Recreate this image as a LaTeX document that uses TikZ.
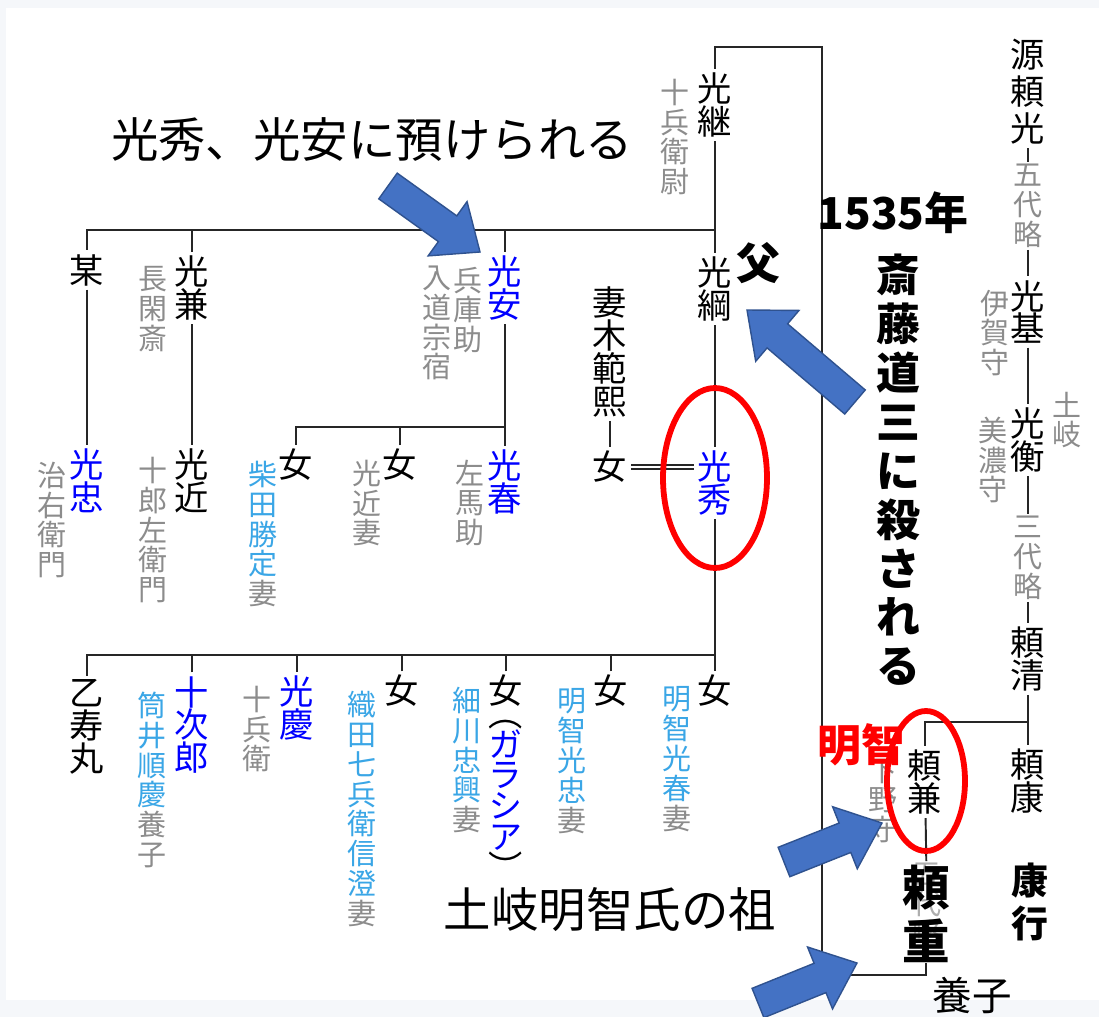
\documentclass[tikz,border=0pt]{standalone}
\usepackage{fontspec}
\setmainfont{Noto Sans CJK JP}
\newfontfamily\tatefont[RawFeature=+vert]{Noto Sans CJK JP}
\usepackage{tikz}
\usetikzlibrary{positioning, calc}

\definecolor{bgpanel}{HTML}{F5F7FA}
\definecolor{notegray}{HTML}{8C8C8C}
\definecolor{nameblue}{HTML}{0000FF}
\definecolor{skyblue}{HTML}{3AA6E6}
\definecolor{arrowblue}{HTML}{4472C4}
\definecolor{arrowedge}{HTML}{2F528F}

% block arrow from tail (#1) to tip (#2), #3 names its neck
\newcommand{\blockarrow}[3]{%
  \coordinate (#3neck) at ($(#2)!22.7pt!(#1)$);
  \filldraw[bluearrow] ($(#1)!9pt!90:(#2)$) -- ($(#3neck)!9pt!90:(#2)$) -- ($(#3neck)!19pt!90:(#2)$) -- (#2)
    -- ($(#3neck)!19pt!-90:(#2)$) -- ($(#3neck)!9pt!-90:(#2)$) -- ($(#1)!9pt!-90:(#2)$) -- cycle;
}

\begin{document}
\begin{tikzpicture}[
    x=0.02cm, y=-0.02cm,
    person/.style={font=\fontsize{19.5}{18.7}\selectfont, align=center, inner sep=2pt},
    tallperson/.style={person, font=\fontsize{19.5}{21}\selectfont},
    bluep/.style={person, text=nameblue},
    note/.style={font=\fontsize{16.5}{17}\selectfont, align=center, inner sep=1pt, text=notegray},
    skynote/.style={note, text=skyblue},
    heavy/.style={font=\bfseries\fontsize{25}{27.8}\selectfont, align=center, inner sep=0pt},
    callout/.style={font=\fontsize{27}{30}\selectfont, inner sep=0pt},
    link/.style={draw=black!85, line width=1.1pt},
    wedding/.style={draw=black!85, double, double distance=1.7pt, line width=1pt},
    ring/.style={draw=red, line width=3.3pt},
    bluearrow/.style={fill=arrowblue, draw=arrowedge, line width=0.8pt}
]

% Backdrop
\useasboundingbox (0,0) rectangle (1099,1017);
\fill[bgpanel] (0,0) rectangle (1099,1017);
\fill[white] (6,8) rectangle (1099,1000);

% Generation 1: Mitsutsugu
\node[person] (mitsutsugu) at (715,105) {光\\継};
\node[note] (jubeijo) at (675,137) {十\\兵\\衛\\尉};

% Generation 2
\node[person] (bou) at (87,270) {某};
\node[person] (mitsukane) at (192,288) {光\\兼};
\node[note] (nodoka) at (153,309) {長\\閑\\斎};
\node[bluep] (mitsuyasu) at (505,288) {光\\安};
\node[note] (hyogo) at (468,310) {兵\\庫\\助};
\node[note] (nyudo) at (437,323) {入\\道\\宗\\宿};
\node[person] (mitsutsuna) at (715,289) {光\\綱};
\node[heavy] (father) at (758,263) {父};

% Generation 3
\node[bluep] (mitsutada) at (87,481) {光\\忠};
\node[note] (jiuemon) at (52,520) {治\\右\\衛\\門};
\node[person] (mitsuchika) at (192,481) {光\\近};
\node[note] (jurozaemon) at (153,530) {十\\郎\\左\\衛\\門};
\node[person] (onna1) at (296,465) {女};
\node[skynote] (shibata) at (263,534) {柴\\田\\勝\\定\\\textcolor{notegray}{妻}};
\node[person] (onna2) at (400,465) {女};
\node[note] (chikatsuma) at (367,503) {光\\近\\妻};
\node[bluep] (mitsuharu) at (505,482) {光\\春};
\node[note] (sama) at (470,503) {左\\馬\\助};
\node[person] (tsumaki) at (610,352) {妻\\木\\範\\熙};
\node[person] (tsuma) at (610,467) {女};
\node[bluep] (mitsuhide) at (715,483) {光\\秀};

% Generation 4: children of Mitsuhide
\node[person] (otojumaru) at (87,727) {乙\\寿\\丸};
\node[bluep] (jujiro) at (192,725) {十\\次\\郎};
\node[skynote] (tsutsui) at (152,780) {筒\\井\\順\\慶\\\textcolor{notegray}{養}\\\textcolor{notegray}{子}};
\node[bluep] (mitsuyoshi) at (297,708) {光\\慶};
\node[note] (jubei) at (257,729) {十\\兵\\衛};
\node[person] (onna6) at (402,691) {女};
\node[skynote] (oda) at (362,809) {織\\田\\七\\兵\\衛\\信\\澄\\\textcolor{notegray}{妻}};
\node[person] (onna7) at (506,691) {女};
\node[bluep, font=\tatefont\fontsize{19.5}{17.5}\selectfont] (gracia) at (506,800) {\textcolor{black}{（}\\ガ\\ラ\\シ\\ア\\\textcolor{black}{）}};
\node[skynote] (hosokawa) at (467,760) {細\\川\\忠\\興\\\textcolor{notegray}{妻}};
\node[person] (onna8) at (611,691) {女};
\node[skynote] (akechi1) at (572,761) {明\\智\\光\\忠\\\textcolor{notegray}{妻}};
\node[person] (onna9) at (715,691) {女};
\node[skynote] (akechi2) at (677,759) {明\\智\\光\\春\\\textcolor{notegray}{妻}};

% Toki line (right column)
\node[tallperson] (yorimitsu) at (1028,92) {源\\頼\\光};
\node[note] (godai1) at (1028,206) {五\\代\\略};
\node[person] (mitsumoto) at (1028,312) {光\\基};
\node[note] (iga) at (995,333) {伊\\賀\\守};
\node[person] (mitsuhira) at (1028,440) {光\\衡};
\node[note] (mino) at (993,460) {美\\濃\\守};
\node[note] (toki) at (1067,420) {土\\岐};
\node[note] (sandai) at (1028,558) {三\\代\\略};
\node[person] (yorikiyo) at (1028,659) {頼\\清};
\node[person] (yoriyasu) at (1028,781) {頼\\康};
\node[person] (yorikane) at (925,782) {頼\\兼};
\node[note] (shimotsuke) at (883,801) {下\\野\\守};
\node[note, text=notegray!70] (godai2) at (927,905) {五\\代\\略};
\node[heavy, font=\bfseries\fontsize{27}{31}\selectfont] (yorishige) at (926,914) {頼\\重};
\node[font=\fontsize{22.5}{25}\selectfont, inner sep=0pt] (yoshi) at (972,995) {養子};
\node[heavy, font=\bfseries\fontsize{21}{24}\selectfont] (yasuyuki) at (1030,902) {康\\行};

% Junctions
\coordinate (corner1) at (822,47);
\coordinate (corner2) at (822,975);
\coordinate (bar1) at (715,230);
\coordinate (bar2) at (505,427);
\coordinate (bar3) at (715,655);
\coordinate (bar4) at (1028,722);

% Connectors
\draw[link] (mitsutsugu.north) |- (corner1) -- (corner2) -| (yorishige.south);
\draw[link] (mitsutsugu) -- (mitsutsuna);
\draw[link] (bar1) -| (bou.north);
\draw[link] (mitsukane.north) -- (mitsukane.north |- bar1);
\draw[link] (mitsuyasu.north) -- (mitsuyasu.north |- bar1);
\draw[link] (bou) -- (mitsutada);
\draw[link] (mitsukane) -- (mitsuchika);
\draw[link] (mitsuyasu) -- (mitsuharu);
\draw[link] (bar2) -| (onna1.north);
\draw[link] (onna2.north) -- (onna2.north |- bar2);
\draw[link] (mitsutsuna) -- (mitsuhide);
\draw[link] (tsumaki) -- (tsuma);
\draw[wedding] (tsuma.east) -- (tsuma.east -| mitsuhide.west);
\draw[link] (mitsuhide) -- (onna9);
\draw[link] (bar3) -| (otojumaru.north);
\draw[link] (jujiro.north) -- (jujiro.north |- bar3);
\draw[link] (mitsuyoshi.north) -- (mitsuyoshi.north |- bar3);
\draw[link] (onna6.north) -- (onna6.north |- bar3);
\draw[link] (onna7.north) -- (onna7.north |- bar3);
\draw[link] (onna8.north) -- (onna8.north |- bar3);
\draw[link] (yorimitsu) -- (godai1);
\draw[link] (godai1) -- (mitsumoto);
\draw[link] (mitsumoto) -- (mitsuhira);
\draw[link] (mitsuhira) -- (sandai);
\draw[link] (sandai) -- (yorikiyo);
\draw[link] (yorikiyo) -- (yoriyasu);
\draw[link] (bar4) -| (yorikane.north);
\draw[link] (yorikane) -- (godai2);

% Callouts
\node[callout] (azukerareru) at (372,140) {光秀、光安に預けられる};
\node[heavy] (year) at (893,213) {1535年};
\node[heavy] (killed) at (898,470) {斎\\藤\\道\\三\\に\\殺\\さ\\れ\\る};
\node[heavy, text=red] (akechi) at (861,745) {明智};
\node[callout] (founder) at (610,910) {土岐明智氏の祖};

% Rings
\draw[ring] (715,478) ellipse [x radius=52, y radius=90];
\draw[ring] (926,781) ellipse [x radius=39, y radius=70];

% Arrows
\coordinate (arrAtail) at (388,186);
\coordinate (arrAtip) at (480,252);
\coordinate (arrBtail) at (855,402);
\coordinate (arrBtip) at (747,310);
\coordinate (arrCtail) at (784,862);
\coordinate (arrCtip) at (882,823);
\coordinate (arrDtail) at (758,1003);
\coordinate (arrDtip) at (857,963);
\blockarrow{arrAtail}{arrAtip}{arrA}
\blockarrow{arrBtail}{arrBtip}{arrB}
\blockarrow{arrCtail}{arrCtip}{arrC}
\blockarrow{arrDtail}{arrDtip}{arrD}

\end{tikzpicture}
\end{document}
